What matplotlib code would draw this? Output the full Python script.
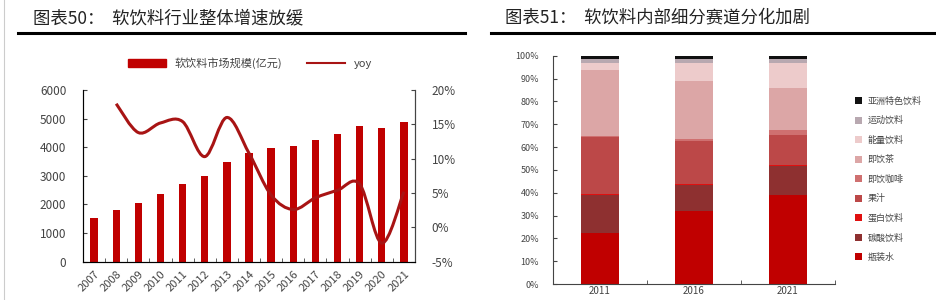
import numpy as np
import matplotlib.pyplot as plt
from matplotlib.path import Path
from matplotlib.patches import PathPatch, Patch
from matplotlib.lines import Line2D

plt.rcParams['font.family'] = ['Noto Sans CJK SC', 'DejaVu Sans']

# 图表50 data
years = ['2007', '2008', '2009', '2010', '2011', '2012', '2013', '2014',
         '2015', '2016', '2017', '2018', '2019', '2020', '2021']
market = [1540, 1806, 2063, 2366, 2727, 3007, 3497, 3811,
          3963, 4044, 4254, 4464, 4744, 4662, 4895]
yoy_years = years[1:]
yoy = [18.0, 13.8, 15.2, 15.4, 10.3, 16.0, 10.8, 4.7, 2.6, 4.3, 5.4, 6.3, -2.3, 5.2]

# 图表51 data (share, %)
periods = ['2011', '2016', '2021']
segments = ['瓶装水', '碳酸饮料', '蛋白饮料', '果汁', '即饮咖啡',
            '即饮茶', '能量饮料', '运动饮料', '亚洲特色饮料']
shares = {
    '瓶装水':     [22.5, 32.0, 38.8],
    '碳酸饮料':   [16.6, 11.2, 12.8],
    '蛋白饮料':   [0.5, 0.5, 0.5],
    '果汁':       [24.8, 18.8, 13.3],
    '即饮咖啡':   [0.3, 1.0, 2.2],
    '即饮茶':     [29.0, 25.2, 18.2],
    '能量饮料':   [3.2, 8.0, 10.9],
    '运动饮料':   [1.6, 2.0, 1.8],
    '亚洲特色饮料': [1.5, 1.3, 1.5],
}
seg_colors = ['#C00000', '#8E3030', '#E01010', '#BC4848', '#CF7070',
              '#DCA6A6', '#EDCBCB', '#B8A8B0', '#111111']

RED = '#C00000'
LINE_RED = '#A81414'
GRAY = '#444444'

fig = plt.figure(figsize=(9.37, 3.0), dpi=100)

# titles and rules
fig.text(33 / 937, 1 - 18 / 300, '图表50：  软饮料行业整体增速放缓', fontsize=12.5,
         va='center', ha='left', color='#222222')
fig.text(505 / 937, 1 - 18 / 300, '图表51：  软饮料内部细分赛道分化加剧', fontsize=12.5,
         va='center', ha='left', color='#222222')
fig.add_artist(Line2D([18 / 937, 465 / 937], [1 - 33 / 300] * 2, color='black', lw=2.2))
fig.add_artist(Line2D([491 / 937, 1.0], [1 - 33 / 300] * 2, color='black', lw=2.2))
fig.add_artist(Line2D([4 / 937, 4 / 937], [0, 1], color='#cccccc', lw=0.8))


def smooth_path(xs, ys, t=1 / 6):
    # catmull-rom style bezier through the data points
    pts = np.column_stack([xs, ys]).astype(float)
    verts = [pts[0]]
    codes = [Path.MOVETO]
    n = len(pts)
    for i in range(n - 1):
        p0 = pts[max(i - 1, 0)]
        p1 = pts[i]
        p2 = pts[i + 1]
        p3 = pts[min(i + 2, n - 1)]
        c1 = p1 + (p2 - p0) * t
        c2 = p2 - (p3 - p1) * t
        verts += [c1, c2, p2]
        codes += [Path.CURVE4] * 3
    return Path(verts, codes)


# ---- left chart ----
ax1 = fig.add_axes([83 / 937, 1 - 261.7 / 300, 332 / 937, 171.7 / 300])
x = np.arange(len(years))
ax1.bar(x, market, width=0.33, color=RED, zorder=2)
ax1.set_xlim(-0.5, len(years) - 0.5)
ax1.set_ylim(0, 6000)
ax1.set_yticks(range(0, 6001, 1000))
ax1.set_xticks(x)
ax1.set_xticklabels(years, rotation=45, ha='right', rotation_mode='anchor')
ax1.set_xticks(np.arange(-0.5, len(years)), minor=True)
ax1.tick_params(axis='x', which='major', length=0, pad=5, labelsize=8, labelcolor=GRAY)
ax1.tick_params(axis='x', which='minor', direction='in', length=3, color=GRAY)
ax1.tick_params(axis='y', direction='in', length=3, labelsize=8.5, labelcolor=GRAY, pad=12,
                color=GRAY)
ax1.spines['top'].set_visible(False)
for s in ['left', 'bottom', 'right']:
    ax1.spines[s].set_color(GRAY)

ax2 = ax1.twinx()
ax2.set_ylim(-5, 20)
ax2.set_yticks(range(-5, 21, 5))
ax2.set_yticklabels([f'{v}%' for v in range(-5, 21, 5)])
ax2.tick_params(axis='y', direction='in', length=3, labelsize=8.5, labelcolor=GRAY, pad=12,
                color=GRAY)
ax2.spines['top'].set_visible(False)
ax2.spines['right'].set_color(GRAY)
ax2.add_patch(PathPatch(smooth_path(np.arange(1, len(years)), yoy), fill=False,
                        edgecolor=LINE_RED, lw=2.2, zorder=3))

handles = [Patch(facecolor=RED, edgecolor=RED),
           Line2D([], [], color=LINE_RED, lw=1.5)]
fig.legend(handles, ['软饮料市场规模(亿元)', 'yoy'], loc='center',
           bbox_to_anchor=(250 / 937, 1 - 63 / 300), ncol=2, frameon=False,
           fontsize=8, handlelength=3.4, handleheight=0.7, columnspacing=2.2,
           labelcolor=GRAY)

# ---- right chart ----
ax3 = fig.add_axes([553 / 937, 1 - 284 / 300, 282 / 937, 228.3 / 300])
xp = np.arange(len(periods))
bottom = np.zeros(len(periods))
bars = []
for name, col in zip(segments, seg_colors):
    vals = np.array(shares[name])
    b = ax3.bar(xp, vals, bottom=bottom, width=0.41, color=col, label=name)
    bars.append(b)
    bottom += vals
ax3.set_xlim(-0.5, len(periods) - 0.5)
ax3.set_ylim(0, 100)
ax3.set_yticks(range(0, 101, 10))
ax3.set_yticklabels([f'{v}%' for v in range(0, 101, 10)])
ax3.set_xticks(xp)
ax3.set_xticklabels(periods)
ax3.set_xticks(np.arange(-0.5, len(periods)), minor=True)
ax3.tick_params(axis='x', which='major', length=0, labelsize=7, labelcolor=GRAY, pad=1.5)
ax3.tick_params(axis='x', which='minor', direction='in', length=3, color=GRAY)
ax3.tick_params(axis='y', direction='in', length=3, labelsize=6.5, labelcolor=GRAY,
                pad=10, color=GRAY)
for s in ['top', 'right']:
    ax3.spines[s].set_visible(False)
for s in ['left', 'bottom']:
    ax3.spines[s].set_color(GRAY)

ax3.legend(bars[::-1], segments[::-1], loc='upper left',
           bbox_to_anchor=(851 / 937, 1 - 93 / 300), bbox_transform=fig.transFigure,
           frameon=False, fontsize=6.5, handlelength=0.8, handleheight=0.8,
           labelspacing=1.15, handletextpad=0.6, labelcolor=GRAY, borderaxespad=0)

fig.savefig('out.png', dpi=100)
